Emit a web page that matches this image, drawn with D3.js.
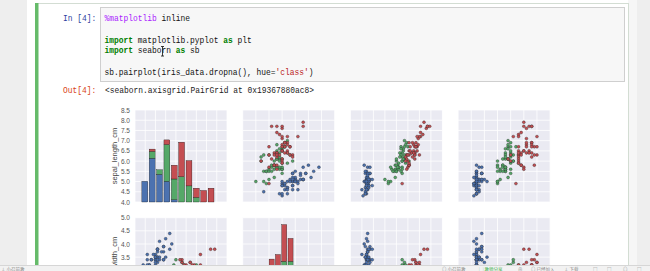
<!DOCTYPE html>
<html lang="en">
<head>
<meta charset="UTF-8">
<title>pairplot</title>
<script src="https://cdn.jsdelivr.net/npm/d3@7"></script>
<style>
  body { margin: 0; background: #eeeeee; }
  svg { display: block; }
</style>
</head>
<body>
<svg id="page" width="650" height="271"></svg>
<script>
    // iris rows: sepal_length, sepal_width, petal_length, petal_width
    let classNames = ['Iris-setosa', 'Iris-versicolor', 'Iris-virginica'];
    let columns = ['sepal_length_cm', 'sepal_width_cm', 'petal_length_cm', 'petal_width_cm'];

    let setosa = [
        [5.1,3.5,1.4,0.2],[4.9,3.0,1.4,0.2],[4.7,3.2,1.3,0.2],[4.6,3.1,1.5,0.2],[5.0,3.6,1.4,0.2],
        [5.4,3.9,1.7,0.4],[4.6,3.4,1.4,0.3],[5.0,3.4,1.5,0.2],[4.4,2.9,1.4,0.2],[4.9,3.1,1.5,0.1],
        [5.4,3.7,1.5,0.2],[4.8,3.4,1.6,0.2],[4.8,3.0,1.4,0.1],[4.3,3.0,1.1,0.1],[5.8,4.0,1.2,0.2],
        [5.7,4.4,1.5,0.4],[5.4,3.9,1.3,0.4],[5.1,3.5,1.4,0.3],[5.7,3.8,1.7,0.3],[5.1,3.8,1.5,0.3],
        [5.4,3.4,1.7,0.2],[5.1,3.7,1.5,0.4],[4.6,3.6,1.0,0.2],[5.1,3.3,1.7,0.5],[4.8,3.4,1.9,0.2],
        [5.0,3.0,1.6,0.2],[5.0,3.4,1.6,0.4],[5.2,3.5,1.5,0.2],[5.2,3.4,1.4,0.2],[4.7,3.2,1.6,0.2],
        [4.8,3.1,1.6,0.2],[5.4,3.4,1.5,0.4],[5.2,4.1,1.5,0.1],[5.5,4.2,1.4,0.2],[4.9,3.1,1.5,0.2],
        [5.0,3.2,1.2,0.2],[5.5,3.5,1.3,0.2],[4.9,3.6,1.4,0.1],[4.4,3.0,1.3,0.2],[5.1,3.4,1.5,0.2],
        [5.0,3.5,1.3,0.3],[4.5,2.3,1.3,0.3],[4.4,3.2,1.3,0.2],[5.0,3.5,1.6,0.6],[5.1,3.8,1.9,0.4],
        [4.8,3.0,1.4,0.3],[5.1,3.8,1.6,0.2],[4.6,3.2,1.4,0.2],[5.3,3.7,1.5,0.2],[5.0,3.3,1.4,0.2]
    ];
    let versicolor = [
        [7.0,3.2,4.7,1.4],[6.4,3.2,4.5,1.5],[6.9,3.1,4.9,1.5],[5.5,2.3,4.0,1.3],[6.5,2.8,4.6,1.5],
        [5.7,2.8,4.5,1.3],[6.3,3.3,4.7,1.6],[4.9,2.4,3.3,1.0],[6.6,2.9,4.6,1.3],[5.2,2.7,3.9,1.4],
        [5.0,2.0,3.5,1.0],[5.9,3.0,4.2,1.5],[6.0,2.2,4.0,1.0],[6.1,2.9,4.7,1.4],[5.6,2.9,3.6,1.3],
        [6.7,3.1,4.4,1.4],[5.6,3.0,4.5,1.5],[5.8,2.7,4.1,1.0],[6.2,2.2,4.5,1.5],[5.6,2.5,3.9,1.1],
        [5.9,3.2,4.8,1.8],[6.1,2.8,4.0,1.3],[6.3,2.5,4.9,1.5],[6.1,2.8,4.7,1.2],[6.4,2.9,4.3,1.3],
        [6.6,3.0,4.4,1.4],[6.8,2.8,4.8,1.4],[6.7,3.0,5.0,1.7],[6.0,2.9,4.5,1.5],[5.7,2.6,3.5,1.0],
        [5.5,2.4,3.8,1.1],[5.5,2.4,3.7,1.0],[5.8,2.7,3.9,1.2],[6.0,2.7,5.1,1.6],[5.4,3.0,4.5,1.5],
        [6.0,3.4,4.5,1.6],[6.7,3.1,4.7,1.5],[6.3,2.3,4.4,1.3],[5.6,3.0,4.1,1.3],[5.5,2.5,4.0,1.3],
        [5.5,2.6,4.4,1.2],[6.1,3.0,4.6,1.4],[5.8,2.6,4.0,1.2],[5.0,2.3,3.3,1.0],[5.6,2.7,4.2,1.3],
        [5.7,3.0,4.2,1.2],[5.7,2.9,4.2,1.3],[6.2,2.9,4.3,1.3],[5.1,2.5,3.0,1.1],[5.7,2.8,4.1,1.3]
    ];
    let virginica = [
        [6.3,3.3,6.0,2.5],[5.8,2.7,5.1,1.9],[7.1,3.0,5.9,2.1],[6.3,2.9,5.6,1.8],[6.5,3.0,5.8,2.2],
        [7.6,3.0,6.6,2.1],[4.9,2.5,4.5,1.7],[7.3,2.9,6.3,1.8],[6.7,2.5,5.8,1.8],[7.2,3.6,6.1,2.5],
        [6.5,3.2,5.1,2.0],[6.4,2.7,5.3,1.9],[6.8,3.0,5.5,2.1],[5.7,2.5,5.0,2.0],[5.8,2.8,5.1,2.4],
        [6.4,3.2,5.3,2.3],[6.5,3.0,5.5,1.8],[7.7,3.8,6.7,2.2],[7.7,2.6,6.9,2.3],[6.0,2.2,5.0,1.5],
        [6.9,3.2,5.7,2.3],[5.6,2.8,4.9,2.0],[7.7,2.8,6.7,2.0],[6.3,2.7,4.9,1.8],[6.7,3.3,5.7,2.1],
        [7.2,3.2,6.0,1.8],[6.2,2.8,4.8,1.8],[6.1,3.0,4.9,1.8],[6.4,2.8,5.6,2.1],[7.2,3.0,5.8,1.6],
        [7.4,2.8,6.1,1.9],[7.9,3.8,6.4,2.0],[6.4,2.8,5.6,2.2],[6.3,2.8,5.1,1.5],[6.1,2.6,5.6,1.4],
        [7.7,3.0,6.1,2.3],[6.3,3.4,5.6,2.4],[6.4,3.1,5.5,1.8],[6.0,3.0,4.8,1.8],[6.9,3.1,5.4,2.1],
        [6.7,3.1,5.6,2.4],[6.9,3.1,5.1,2.3],[5.8,2.7,5.1,1.9],[6.8,3.2,5.9,2.3],[6.7,3.3,5.7,2.5],
        [6.7,3.0,5.2,2.3],[6.3,2.5,5.0,1.9],[6.5,3.0,5.2,2.0],[6.2,3.4,5.4,2.3],[5.9,3.0,5.1,1.8]
    ];

    // axis limits and tick labels of each variable
    let sepalLengthTicks = [4.0, 4.5, 5.0, 5.5, 6.0, 6.5, 7.0, 7.5, 8.0, 8.5];
    let sepalWidthTicks = [1.5, 2.0, 2.5, 3.0, 3.5, 4.0, 4.5, 5.0];
    let petalLengthTicks = [0, 1, 2, 3, 4, 5, 6, 7, 8];
    let petalWidthTicks = [-0.5, 0.0, 0.5, 1.0, 1.5, 2.0, 2.5, 3.0];
    let countDomain = [0, 40];

    let codeLines = [
        [['%matplotlib', 'magic'], [' inline', 'plain']],
        [],
        [['import', 'kw'], [' matplotlib.pyplot ', 'plain'], ['as', 'kw'], [' plt', 'plain']],
        [['import', 'kw'], [' seaborn ', 'plain'], ['as', 'kw'], [' sb', 'plain']],
        [],
        [['sb.pairplot(iris_data.dropna(), hue=', 'plain'], ["'class'", 'str'], [')', 'plain']]
    ];
    let outText = '<seaborn.axisgrid.PairGrid at 0x19367880ac8>';
    let statusLeft = ['\u2193 小召前教'];
    let statusRight = ['\u25CE 小召前教', '\u25A2 教师分享', '\u2295', '\u25CE 已经加入', '\u2193 下载', '\u25A1', '\u25A1', '\u25CE', '\u25A1'];

    let palette = ['#4c72b0', '#55a868', '#c44e52'];
    let tokenColor = {magic: '#aa22ff', kw: '#008000', plain: '#111', str: '#ba2121'};
    let mono = '"Liberation Mono", "DejaVu Sans Mono", monospace';

    let svg = d3.select('#page');

    // page and notebook container
    svg.append('rect').attr('width', 650).attr('height', 271).attr('fill', '#eeeeee');
    svg.append('rect').attr('x', 27).attr('y', 0).attr('width', 610).attr('height', 271).attr('fill', '#ffffff');
    svg.append('rect').attr('x', 628).attr('y', 0).attr('width', 9).attr('height', 271).attr('fill', '#f6f6f6');
    svg.append('rect')
        .attr('x', 35.5).attr('y', 3.5).attr('width', 593).attr('height', 300)
        .attr('fill', '#fff').attr('stroke', '#d3ddd3');
    svg.append('rect').attr('x', 35).attr('y', 3).attr('width', 3.5).attr('height', 300).attr('fill', '#66bb6a');

    // one line of monospace text, squeezed to 4.75px per char like the screenshot
    function monoLine(x, y, tokens) {
        let t = svg.append('text')
            .attr('transform', 'translate(' + x + ',' + y + ') scale(0.88,1)')
            .attr('font-family', mono).attr('font-size', 9)
            .attr('xml:space', 'preserve')
            .style('white-space', 'pre');
        tokens.forEach(function (tok) {
            t.append('tspan')
                .attr('fill', tokenColor[tok[1]] || tok[1])
                .attr('font-weight', tok[1] === 'kw' ? 'bold' : 'normal')
                .text(tok[0]);
        });
    }

    monoLine(63, 21, [['In [4]:', '#303f9f']]);
    svg.append('rect')
        .attr('x', 100.5).attr('y', 7.5).attr('width', 524).attr('height', 74)
        .attr('fill', '#f7f7f7').attr('stroke', '#cfcfcf');

    codeLines.forEach(function (line, i) {
        if (line.length) monoLine(104.5, 21 + i * 10.8, line);
    });

    // text cursor in the code
    svg.append('path')
        .attr('d', 'M161,46.5h3M162.5,46.5v9.5M161,56h3')
        .attr('stroke', '#222').attr('stroke-width', 0.9).attr('fill', 'none');

    monoLine(63, 93, [['Out[4]:', '#d84315']]);
    monoLine(105, 93, [[outText, '#222']]);

    // pair grid (only the two top rows are on screen)
    let S = 92;
    let step = 107.7;
    let x0 = 135, y0 = 110;
    let allRows = setosa.concat(versicolor, virginica);
    let groups = [setosa, versicolor, virginica];
    let ticks = [sepalLengthTicks, sepalWidthTicks, petalLengthTicks, petalWidthTicks];
    let scaleX = ticks.map(function (t) {
        return d3.scaleLinear().domain([t[0], t[t.length - 1]]).range([0, S]);
    });
    let scaleY = ticks.map(function (t) {
        return d3.scaleLinear().domain([t[0], t[t.length - 1]]).range([S, 0]);
    });
    let count = d3.scaleLinear().domain(countDomain).range([S, 0]);

    svg.append('clipPath').attr('id', 'screen')
        .append('rect').attr('width', 650).attr('height', 265);
    let grid = svg.append('g').attr('clip-path', 'url(#screen)');

    for (let r = 0; r < 2; r++) {
        let top = y0 + r * step;
        for (let c = 0; c < 4; c++) {
            let g = grid.append('g')
                .attr('transform', 'translate(' + (x0 + c * step) + ',' + top + ')');
            g.append('rect').attr('width', S).attr('height', S).attr('fill', '#eaeaf2');

            g.append('g').selectAll('line')
                .data(ticks[c]).enter().append('line')
                .attr('x1', d => scaleX[c](d)).attr('x2', d => scaleX[c](d))
                .attr('y1', 0).attr('y2', S)
                .attr('stroke', '#fff').attr('stroke-width', 0.8);
            g.append('g').selectAll('line')
                .data(ticks[r]).enter().append('line')
                .attr('y1', d => scaleY[r](d)).attr('y2', d => scaleY[r](d))
                .attr('x1', 0).attr('x2', S)
                .attr('stroke', '#fff').attr('stroke-width', 0.8);

            if (r === c) {
                // stacked histogram, 10 bins
                let ext = d3.extent(allRows, d => d[c]);
                let edges = d3.range(11).map(i => +(ext[0] + i * (ext[1] - ext[0]) / 10).toFixed(6));
                let binner = d3.bin().domain(ext).thresholds(edges.slice(1, 10));
                let base = new Array(10).fill(0);
                groups.forEach(function (rows, k) {
                    let bins = binner(rows.map(d => d[c]));
                    let segs = bins.map(function (b, i) {
                        let seg = {i: i, lo: base[i], hi: base[i] + b.length};
                        base[i] += b.length;
                        return seg;
                    });
                    g.append('g').selectAll('rect')
                        .data(segs.filter(s => s.hi > s.lo)).enter().append('rect')
                        .attr('x', s => {
                            let w = scaleX[c](edges[s.i + 1]) - scaleX[c](edges[s.i]);
                            return scaleX[c](edges[s.i]) + w * 0.1;
                        })
                        .attr('width', s => 0.8 * (scaleX[c](edges[s.i + 1]) - scaleX[c](edges[s.i])))
                        .attr('y', s => count(s.hi))
                        .attr('height', s => count(s.lo) - count(s.hi))
                        .attr('fill', palette[k])
                        .attr('stroke', '#000').attr('stroke-width', 0.3);
                });
            } else {
                groups.forEach(function (rows, k) {
                    g.append('g').selectAll('circle')
                        .data(rows).enter().append('circle')
                        .attr('cx', d => scaleX[c](d[c]))
                        .attr('cy', d => scaleY[r](d[r]))
                        .attr('r', 1.45)
                        .attr('fill', palette[k])
                        .attr('stroke', '#222').attr('stroke-width', 0.35);
                });
            }

            if (c === 0) {
                // tick labels hidden behind the status bar are left out
                let shown = ticks[r].filter(v => top + scaleY[r](v) < 263);
                let ax = g.append('g')
                    .call(d3.axisLeft(scaleY[r]).tickValues(shown).tickSize(0).tickPadding(5)
                        .tickFormat(d3.format('.1f')));
                ax.select('.domain').remove();
                ax.selectAll('text')
                    .attr('font-family', '"Liberation Sans", Arial, sans-serif')
                    .attr('font-size', 6.5).attr('fill', '#555');
                g.append('text')
                    .attr('transform', 'translate(-18,' + (S / 2) + ') rotate(-90)')
                    .attr('text-anchor', 'middle')
                    .attr('font-family', '"Liberation Sans", Arial, sans-serif')
                    .attr('font-size', 7.5).attr('fill', '#444')
                    .text(columns[r]);
            }
        }
    }

    // status bar at the bottom of the screen
    svg.append('rect').attr('x', 0).attr('y', 265).attr('width', 650).attr('height', 6).attr('fill', '#f2f2f2');
    svg.append('line').attr('x1', 0).attr('x2', 650).attr('y1', 265.5).attr('y2', 265.5)
        .attr('stroke', '#d6d6d6').attr('stroke-width', 1);
    let statusFont = '"Noto Sans CJK SC", sans-serif';
    svg.append('text').attr('x', 1).attr('y', 270.5).attr('font-family', statusFont)
        .attr('font-size', 4.5).attr('fill', '#888').text(statusLeft[0]);
    let sx = [442, 479, 518, 531, 564, 593, 607, 623, 637];
    statusRight.forEach(function (t, i) {
        svg.append('text').attr('x', sx[i]).attr('y', 270.5).attr('font-family', statusFont)
            .attr('font-size', 4.5).attr('fill', i === 1 ? '#3fae49' : '#888').text(t);
    });
</script>
</body>
</html>
